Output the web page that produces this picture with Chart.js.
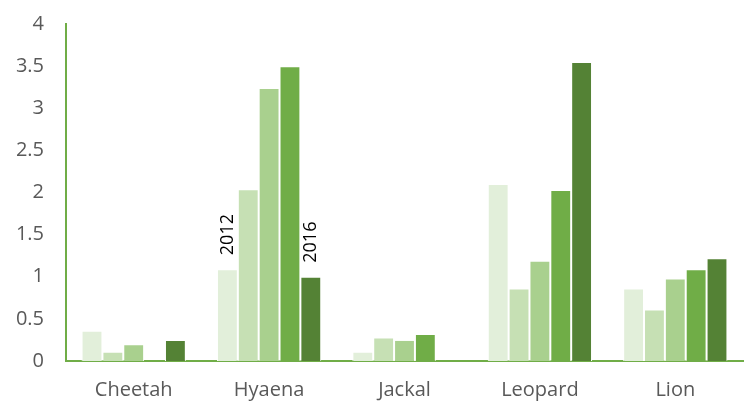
<!DOCTYPE html>
<html lang="en">
<head>
    <meta charset="UTF-8">
    <title>Sightings</title>
    <style>
        html, body { margin: 0; padding: 0; background: #fff; }
        #wrap { width: 745px; height: 404px; }
    </style>
</head>
<body>
    <div id="wrap"><canvas id="myChart"></canvas></div>
    <script src="https://cdn.jsdelivr.net/npm/chart.js"></script>
    <script>
        const animals = ["Cheetah", "Hyaena", "Jackal", "Leopard", "Lion"]
        const years = ["2012", "2013", "2014", "2015", "2016"]
        const v2012 = [0.36, 1.09, 0.11, 2.10, 0.86]
        const v2013 = [0.11, 2.04, 0.28, 0.86, 0.61]
        const v2014 = [0.20, 3.24, 0.25, 1.19, 0.98]
        const v2015 = [0, 3.50, 0.32, 2.03, 1.09]
        const v2016 = [0.25, 1.00, 0, 3.55, 1.22]
        const yTicks = [0, 0.5, 1, 1.5, 2, 2.5, 3, 3.5, 4]
        const colors = ["#e2efda", "#c6e0b4", "#a9d08e", "#70ad47", "#548235"]

        const series = [v2012, v2013, v2014, v2015, v2016]

        // year labels written sideways over two Hyaena bars
        const yearLabels = {
            id: 'yearLabels',
            afterDatasetsDraw(chart) {
                const ctx = chart.ctx
                const marks = [[0, 1], [4, 1]]
                ctx.save()
                ctx.font = '18px "Open Sans", sans-serif'
                ctx.fillStyle = '#000'
                ctx.textAlign = 'left'
                ctx.textBaseline = 'middle'
                marks.forEach(([ds, idx]) => {
                    const bar = chart.getDatasetMeta(ds).data[idx]
                    ctx.save()
                    ctx.translate(bar.x, bar.y - 14)
                    ctx.rotate(-Math.PI / 2)
                    ctx.fillText(years[ds], 0, 0)
                    ctx.restore()
                })
                ctx.restore()
            }
        }

        const tickFont = { family: '"Open Sans", sans-serif', size: 20 }

        const myChart = new Chart(document.getElementById('myChart'), {
            type: 'bar',
            data: {
                labels: animals,
                datasets: series.map((s, i) => ({
                    label: years[i],
                    data: s,
                    backgroundColor: colors[i],
                    borderColor: '#ffffff',
                    borderWidth: c => (c.raw ? 1 : 0),
                    barPercentage: 1,
                    categoryPercentage: 0.77
                }))
            },
            options: {
                responsive: true,
                maintainAspectRatio: false,
                animation: false,
                layout: { padding: { top: 24, right: 2, left: 0, bottom: 0 } },
                plugins: {
                    legend: { display: false },
                    tooltip: { enabled: false }
                },
                scales: {
                    x: {
                        grid: { display: false, drawTicks: false },
                        border: { color: '#70ad47', width: 2 },
                        ticks: {
                            color: '#595959',
                            font: tickFont,
                            padding: 17
                        },
                        afterFit(scale) { scale.height = 43 }
                    },
                    y: {
                        min: 0,
                        max: 4,
                        grid: { display: false, drawTicks: false },
                        border: { color: '#70ad47', width: 2 },
                        afterBuildTicks(scale) {
                            scale.ticks = yTicks.map(v => ({ value: v }))
                        },
                        ticks: {
                            color: '#595959',
                            font: tickFont,
                            padding: 22,
                            callback: v => String(v)
                        },
                        afterFit(scale) {
                            scale.width = 66
                            scale.paddingTop = 0
                        }
                    }
                }
            },
            plugins: [yearLabels]
        });
    </script>
</body>
</html>
